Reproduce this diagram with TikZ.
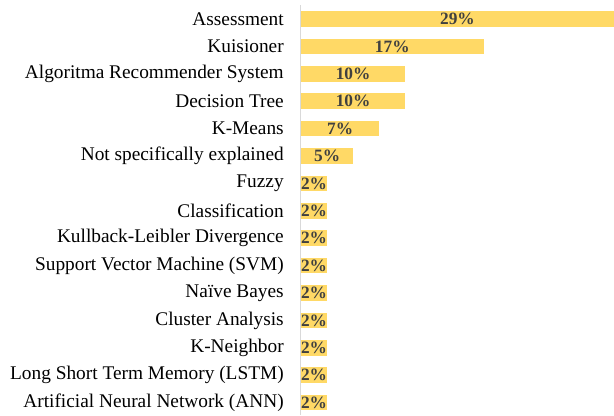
\documentclass[tikz,border=0pt]{standalone}
\usepackage{fontspec}
\setmainfont{Liberation Serif}
\usepackage{xcolor}
\usepackage{tikz}
\definecolor{barGold}{HTML}{FFD966}
\definecolor{pctGray}{HTML}{404040}
\definecolor{axisGray}{HTML}{D9D9D9}

\begin{document}
\begin{tikzpicture}[x=0.75pt, y=0.75pt]
                \useasboundingbox (0, 0) rectangle (614, -415);
                \draw[axisGray, line width=0.75pt] (300.5, -5) -- (300.5, -415);
                \foreach \lbl/\n/\pct [count=\i from 0] in {Assessment/12/29, Kuisioner/7/17, Algoritma Recommender System/4/10, Decision Tree/4/10, K-Means/3/7, Not specifically explained/2/5, Fuzzy/1/2, Classification/1/2, Kullback-Leibler Divergence/1/2, Support Vector Machine (SVM)/1/2, Naïve Bayes/1/2, Cluster Analysis/1/2, K-Neighbor/1/2, Long Short Term Memory (LSTM)/1/2, Artificial Neural Network (ANN)/1/2}
                {
                    \pgfmathsetmacro{\yc}{-19 - 27.4*\i}
                    \node[anchor=east, inner sep=0pt] (lbl\i) at (284, \yc) {\fontsize{14.5}{16}\selectfont \lbl};
                    \fill[barGold] (301, \yc + 7.8) rectangle (301 + 26.08*\n, \yc - 7.8) node[pos=.5, text=pctGray, inner sep=0pt] (pct\i) {\fontsize{13}{14}\selectfont\bfseries \pct\%};
                }
            \end{tikzpicture}
\end{document}
